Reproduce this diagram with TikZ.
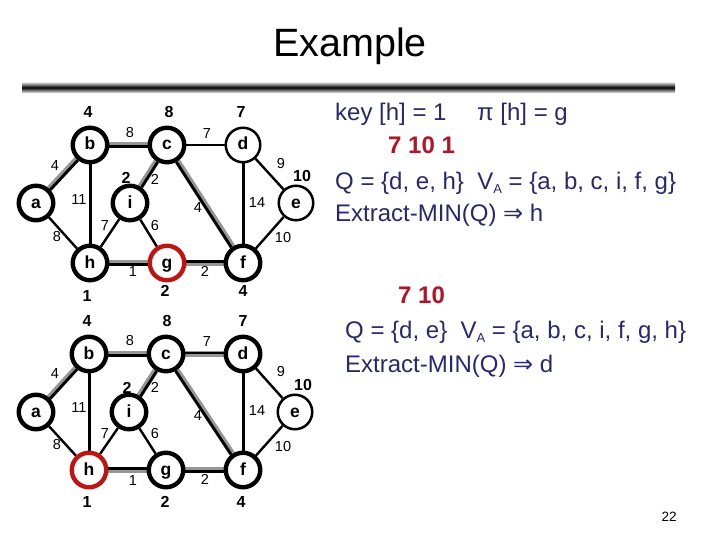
\documentclass[tikz,border=0pt]{standalone}
\usepackage{fontspec}
\setmainfont{Liberation Sans}
\newfontfamily\dejavu{DejaVu Sans}
\usetikzlibrary{backgrounds}
\definecolor{navy}{RGB}{40,40,110}
\definecolor{dred}{RGB}{178,20,40}
\definecolor{tgray}{RGB}{150,150,150}
\definecolor{nred}{RGB}{190,20,20}
\tikzset{
 vtx/.style={circle, draw=black, fill=white, minimum size=34.5pt, inner sep=0pt, text height=12pt, text depth=2pt, font=\fontsize{17.5}{17.5}\selectfont\bfseries},
 vthick/.style={vtx, line width=4.4pt},
 vthin/.style={vtx, line width=2.5pt},
 vred/.style={vtx, line width=4.4pt, draw=nred},
 edg/.style={line width=2.4pt, black},
 edgb/.style={line width=3pt, black},
 tg/.style={line width=6pt, draw=tgray},
 tk/.style={line width=2.8pt, black},
 wl/.style={font=\fontsize{14.5}{14.5}\selectfont, inner sep=0pt},
 kl/.style={font=\fontsize{16}{16}\selectfont\bfseries, inner sep=0pt},
 txt/.style={anchor=base west, inner sep=0pt, text=navy, font=\fontsize{24}{24}\selectfont},
 rtx/.style={anchor=base west, inner sep=0pt, text=dred, font=\fontsize{24}{24}\selectfont\bfseries},
}
\newcommand\mytreeedge[4]{%
 \draw[tg] (#1) -- (#2);
 \draw[tk, transform canvas={shift={(#3pt,#4pt)}}] (#1) -- (#2);}
\newcommand\subA{\raisebox{-4pt}{\fontsize{13}{13}\selectfont A}}
\begin{document}
\begin{tikzpicture}[x=1pt,y=-1pt]
\begin{pgfonlayer}{background}
\fill[white] (0,0) rectangle (720,540);
\end{pgfonlayer}
\useasboundingbox (0,0) rectangle (720,540);
% title
\node[font=\fontsize{39.5}{39.5}\selectfont, anchor=base, inner sep=0pt] (title) at (350,57) {Example};
\shade[top color=gray!15, bottom color=gray!15, middle color=black] (22,82) rectangle (675,93);
% ---------- top graph
\node[vthick] (a1) at (36,203) {a};
\node[vthick] (b1) at (90,145) {b};
\node[vthick] (c1) at (167,145) {c};
\node[vthin]  (d1) at (243,145) {d};
\node[vthick] (i1) at (130,203) {i};
\node[vthin]  (e1) at (296,203) {e};
\node[vthick] (h1) at (90,263) {h};
\node[vred]   (g1) at (167,263) {g};
\node[vthick] (f1) at (243,263) {f};
\begin{pgfonlayer}{background}
\mytreeedge{a1}{b1}{1}{-1}
\mytreeedge{b1}{c1}{0}{-1.3}
\mytreeedge{c1}{i1}{1.1}{-0.7}
\mytreeedge{c1}{f1}{-1.1}{-0.7}
\mytreeedge{h1}{g1}{0}{-1.3}
\mytreeedge{g1}{f1}{0}{1.3}
\draw[edg] (c1) -- (d1);
\draw[edgb] (b1) -- (h1);
\draw[edg] (a1) -- (h1);
\draw[edg] (h1) -- (i1);
\draw[edg] (i1) -- (g1);
\draw[edg] (d1) -- (e1);
\draw[edgb] (d1) -- (f1);
\draw[edg] (e1) -- (f1);
\end{pgfonlayer}
\node[wl] (w1bc) at (130,133) {8};
\node[wl] (w1cd) at (207,134) {7};
\node[wl] (w1ab) at (55,166) {4};
\node[wl] (w1bh) at (79,200) {11};
\node[wl] (w1ci) at (155,179) {2};
\node[wl] (w1cf) at (198,208) {4};
\node[wl] (w1df) at (257,203) {14};
\node[wl] (w1de) at (281,164) {9};
\node[wl] (w1ah) at (57,237) {8};
\node[wl] (w1hi) at (105,226) {7};
\node[wl] (w1ig) at (155,226) {6};
\node[wl] (w1ef) at (283,238) {10};
\node[wl] (w1hg) at (133,272) {1};
\node[wl] (w1gf) at (205,271) {2};
\node[kl] (k1b) at (88,112) {4};
\node[kl] (k1c) at (169,112) {8};
\node[kl] (k1d) at (241,112) {7};
\node[kl] (k1i) at (126,178) {2};
\node[kl] (k1e) at (302,176) {10};
\node[kl] (k1h) at (87,296) {1};
\node[kl] (k1g) at (165,291) {2};
\node[kl] (k1f) at (243,291) {4};
% ---------- bottom graph
\node[vthick] (a2) at (36,412) {a};
\node[vthick] (b2) at (89,354) {b};
\node[vthick] (c2) at (166,354) {c};
\node[vthick] (d2) at (243,354) {d};
\node[vthick] (i2) at (129,412) {i};
\node[vthin]  (e2) at (295,412) {e};
\node[vred]   (h2) at (89,470) {h};
\node[vthick] (g2) at (166,470) {g};
\node[vthick] (f2) at (243,470) {f};
\begin{pgfonlayer}{background}
\mytreeedge{a2}{b2}{1}{-1}
\mytreeedge{b2}{c2}{0}{-1.3}
\mytreeedge{c2}{d2}{0}{1.0}
\mytreeedge{c2}{i2}{1.1}{-0.7}
\mytreeedge{c2}{f2}{-1.1}{-0.7}
\mytreeedge{h2}{g2}{0}{1.3}
\mytreeedge{g2}{f2}{0}{-1.3}
\draw[edgb] (b2) -- (h2);
\draw[edg] (a2) -- (h2);
\draw[edg] (h2) -- (i2);
\draw[edg] (i2) -- (g2);
\draw[edg] (d2) -- (e2);
\draw[edgb] (d2) -- (f2);
\draw[edg] (e2) -- (f2);
\end{pgfonlayer}
\node[wl] (w2bc) at (130,341) {8};
\node[wl] (w2cd) at (207,342) {7};
\node[wl] (w2ab) at (55,374) {4};
\node[wl] (w2bh) at (79,408) {11};
\node[wl] (w2ci) at (155,387) {2};
\node[wl] (w2cf) at (198,416) {4};
\node[wl] (w2df) at (257,411) {14};
\node[wl] (w2de) at (281,372) {9};
\node[wl] (w2ah) at (57,445) {8};
\node[wl] (w2hi) at (105,434) {7};
\node[wl] (w2ig) at (155,434) {6};
\node[wl] (w2ef) at (283,447) {10};
\node[wl] (w2hg) at (133,481) {1};
\node[wl] (w2gf) at (205,479) {2};
\node[kl] (k2b) at (87,321) {4};
\node[kl] (k2c) at (167,321) {8};
\node[kl] (k2d) at (243,321) {7};
\node[kl] (k2i) at (127,388) {2};
\node[kl] (k2e) at (303,385) {10};
\node[kl] (k2h) at (87,502) {1};
\node[kl] (k2g) at (165,502) {2};
\node[kl] (k2f) at (241,502) {4};
% ---------- right text
\node[txt] (t1) at (335,121) {key [h] = 1};
\node[txt] (t2) at (477,121) {π [h] = g};
\node[rtx] (t3) at (388,154) {7 10 1};
\node[txt] (t4) at (335,190) {Q = \{d, e, h\}\ \ V\subA\ = \{a, b, c, i, f, g\}};
\node[txt] (t5) at (335,222) {Extract-MIN(Q) {\dejavu ⇒} h};
\node[rtx] (t6) at (398,303) {7 10};
\node[txt] (t7) at (345,338) {Q = \{d, e\}\ \ V\subA\ = \{a, b, c, i, f, g, h\}};
\node[txt] (t8) at (345,372) {Extract-MIN(Q) {\dejavu ⇒} d};
\node[font=\fontsize{13.5}{13.5}\selectfont, anchor=base, inner sep=0pt] (pg) at (669,521) {22};
\end{tikzpicture}
\end{document}
